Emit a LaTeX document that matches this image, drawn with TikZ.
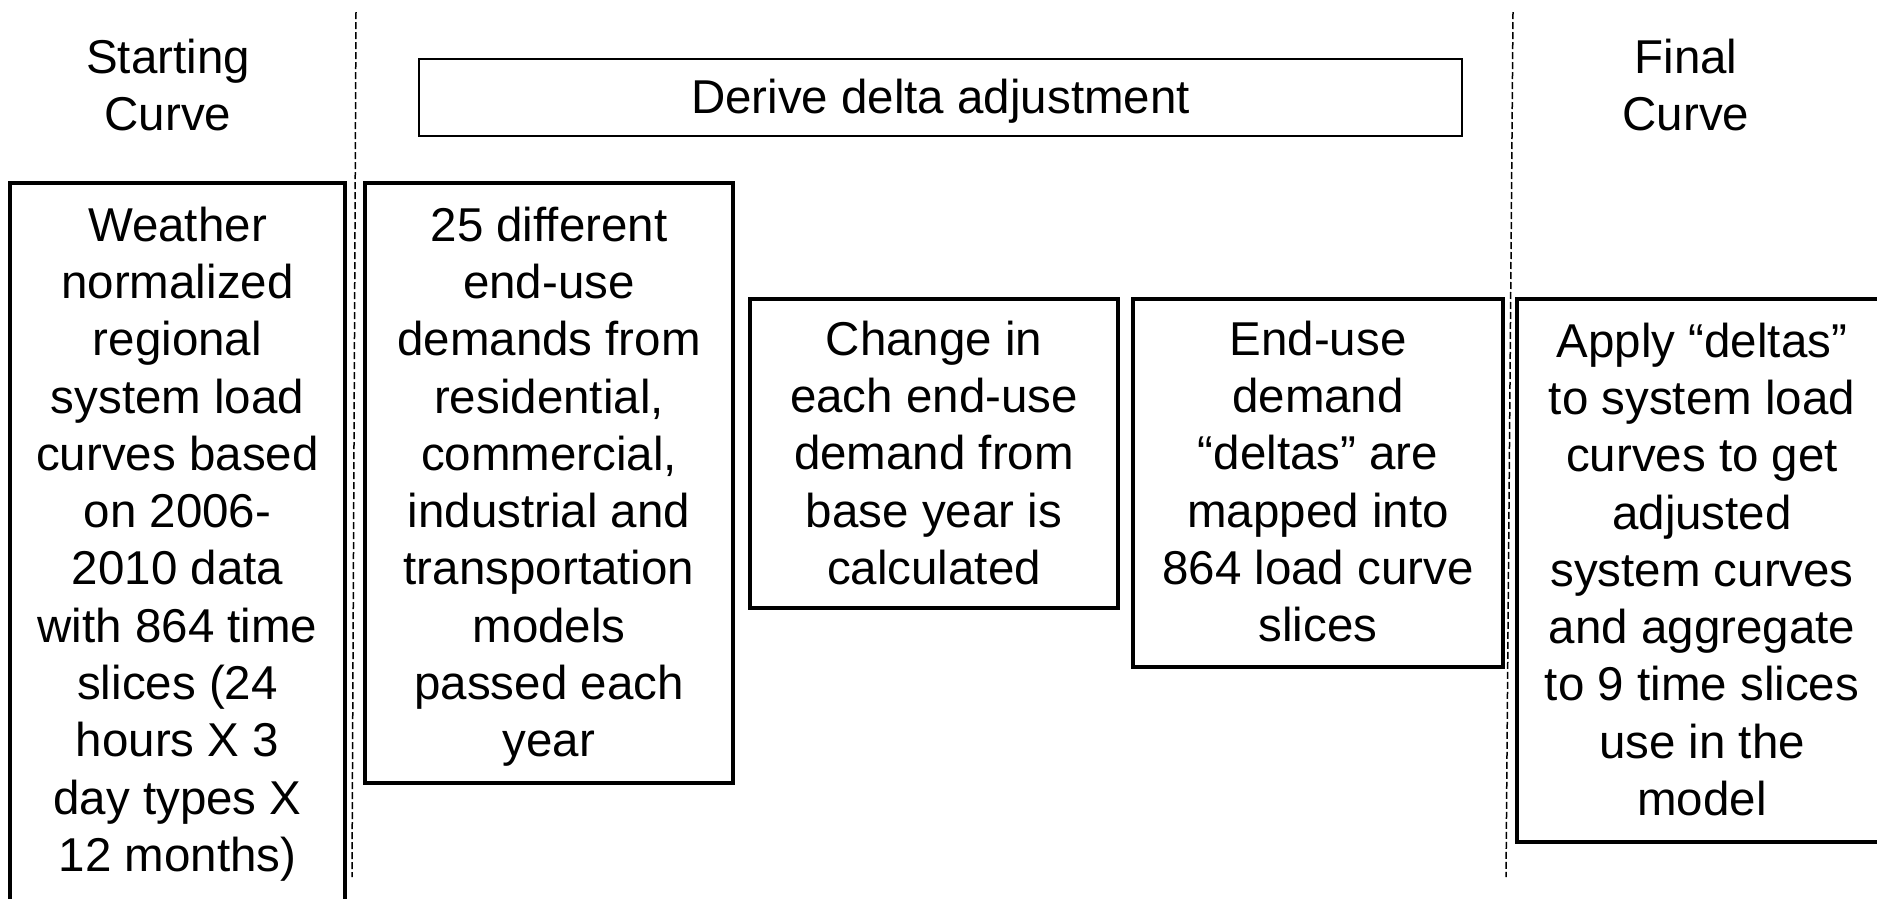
\documentclass[tikz,border=0pt]{standalone}
\usepackage{fontspec}
\setmainfont{Liberation Sans}
\begin{document}
\begin{tikzpicture}[x=1pt,y=-1pt,
  box/.style={draw, line width=4.5pt, inner sep=0pt, outer sep=0pt, anchor=north west},
  thinbox/.style={draw, line width=1.8pt, inner sep=0pt, outer sep=0pt, anchor=north west},
  txt/.style={inner sep=0pt, outer sep=0pt, align=center, font=\fontsize{47.5}{57.3}\selectfont},
  sepline/.style={line width=1.5pt, dash pattern=on 7pt off 3pt}]
\useasboundingbox (0,0) rectangle (1877,898);
% separators
\draw[sepline] (356,12) -- (352,877);
\draw[sepline] (1513,12) -- (1506,877);
% column titles
\node[txt, anchor=north] (start) at (168,33) {\strut Starting\\Curve};
\node[txt, anchor=north] (final) at (1686,33) {\strut Final\\Curve};
% derive box
\node[thinbox, minimum width=1043pt, minimum height=77pt] (derive) at (419,59) {};
\node[txt, anchor=base] (derivetxt) at (940.5,113) {Derive delta adjustment};
% boxes
\node[box, minimum width=335pt, minimum height=750pt] (b1) at (10,183) {};
\node[txt, anchor=north] (t1) at ([yshift=-18pt]b1.north) {\strut Weather\\normalized\\regional\\system load\\curves based\\on 2006-\\2010 data\\with 864 time\\slices (24\\hours X 3\\day types X\\12 months)};
\node[box, minimum width=368pt, minimum height=600pt] (b2) at (365,183) {};
\node[txt, anchor=north] (t2) at ([yshift=-18pt]b2.north) {\strut 25 different\\end-use\\demands from\\residential,\\commercial,\\industrial and\\transportation\\models\\passed each\\year};
\node[box, minimum width=368pt, minimum height=309pt] (b3) at (750,299) {};
\node[txt, anchor=north] (t3) at ([yshift=-16pt]b3.north) {\strut Change in\\each end-use\\demand from\\base year is\\calculated};
\node[box, minimum width=370pt, minimum height=368pt] (b4) at (1133,299) {};
\node[txt, anchor=north] (t4) at ([yshift=-16pt]b4.north) {\strut End-use\\demand\\“deltas” are\\mapped into\\864 load curve\\slices};
\node[box, minimum width=370pt, minimum height=543pt] (b5) at (1517,299) {};
\node[txt, anchor=north] (t5) at ([yshift=-18pt]b5.north) {\strut Apply “deltas”\\to system load\\curves to get\\adjusted\\system curves\\and aggregate\\to 9 time slices\\use in the\\model};
\end{tikzpicture}
\end{document}
